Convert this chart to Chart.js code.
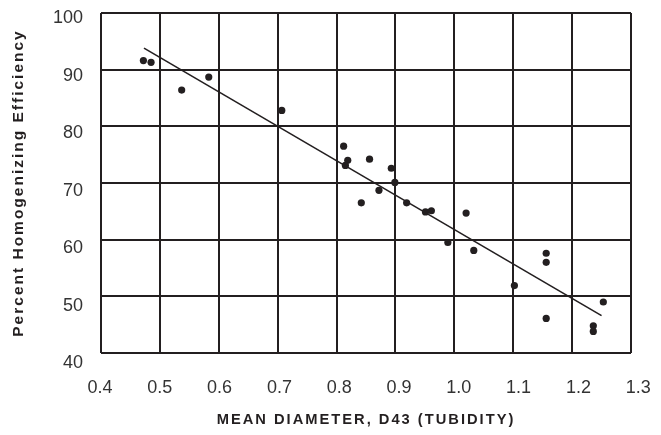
<!DOCTYPE html>
<html>
<head>
<meta charset="utf-8">
<script src="https://cdn.jsdelivr.net/npm/chart.js@4.4.1/dist/chart.umd.min.js"></script>
<style>
  html, body { margin: 0; background: #fff; }
  #wrap { width: 661px; height: 435px; }
</style>
</head>
<body>
<div id="wrap"><canvas id="chart"></canvas></div>
<script>
// measured points: mean diameter vs homogenizing efficiency
var diameter = [0.472, 0.485, 0.537, 0.583, 0.707, 0.812, 0.819, 0.815, 0.856,
  0.893, 0.899, 0.872, 0.842, 0.919, 0.951, 0.961, 1.020, 0.989, 1.033, 1.102,
  1.156, 1.156, 1.156, 1.253, 1.236, 1.236];
var efficiency = [91.6, 91.3, 86.4, 88.7, 82.8, 76.5, 74.0, 73.1, 74.2,
  72.6, 70.1, 68.7, 66.5, 66.5, 64.9, 65.1, 64.7, 59.5, 58.1, 51.9,
  57.6, 56.0, 46.1, 49.0, 44.8, 43.8];

// fitted line end points
var fitX = [0.473, 1.25];
var fitY = [93.8, 46.6];

var xTicks = [0.4, 0.5, 0.6, 0.7, 0.8, 0.9, 1.0, 1.1, 1.2, 1.3];
var yTicks = [40, 50, 60, 70, 80, 90, 100];

var ink = '#231f20';
var labelColor = '#333333';
var family = "'Liberation Sans', Arial, sans-serif";

var points = diameter.map(function (d, i) { return { x: d, y: efficiency[i] }; });
var fit = fitX.map(function (d, i) { return { x: d, y: fitY[i] }; });

function useTicks(list) {
  return function (scale) {
    scale.ticks = list.map(function (v) { return { value: v }; });
  };
}

// titles in the original are letter spaced
var spacing = {
  id: 'spacing',
  beforeDraw: function (chart) { chart.ctx.letterSpacing = '2px'; },
  beforeDatasetsDraw: function (chart) { chart.ctx.letterSpacing = '0px'; }
};

var ctx = document.getElementById('chart').getContext('2d');
new Chart(ctx, {
  type: 'scatter',
  data: {
    datasets: [{
      data: points,
      pointRadius: 3.6,
      pointBackgroundColor: ink,
      pointBorderWidth: 0,
      xAxisID: 'x',
      yAxisID: 'y'
    }, {
      type: 'line',
      data: fit,
      borderColor: ink,
      borderWidth: 1.6,
      pointRadius: 0,
      fill: false,
      xAxisID: 'x',
      yAxisID: 'y'
    }]
  },
  options: {
    animation: false,
    responsive: true,
    maintainAspectRatio: false,
    layout: { padding: { left: 0, right: 30, top: 13, bottom: 0 } },
    plugins: { legend: { display: false }, tooltip: { enabled: false } },
    scales: {
      x: {
        type: 'linear', position: 'bottom', min: 0.4, max: 1.3,
        afterBuildTicks: useTicks(xTicks),
        ticks: { display: false },
        grid: { color: ink, lineWidth: 2, drawTicks: false },
        border: { display: false }
      },
      y: {
        type: 'linear', position: 'left', min: 40, max: 100,
        afterBuildTicks: useTicks(yTicks),
        ticks: { display: false },
        grid: { color: ink, lineWidth: 2, drawTicks: false },
        border: { display: false }
      },
      xl: {
        type: 'linear', axis: 'x', position: 'bottom', min: 0.40167, max: 1.28796,
        afterBuildTicks: useTicks(xTicks),
        ticks: {
          padding: 24, z: 1, autoSkip: false, maxRotation: 0, color: labelColor,
          font: { family: family, size: 18 },
          callback: function (v) { return v.toFixed(1); }
        },
        grid: { display: false, drawTicks: false },
        border: { display: false },
        title: {
          display: true, text: 'MEAN DIAMETER, D43 (TUBIDITY)', color: ink,
          font: { family: family, size: 14.7, weight: 'bold' },
          padding: { top: 0, bottom: 6 }
        },
        afterFit: function (s) { s.height = 82; s.paddingLeft = 0; s.paddingRight = 0; }
      },
      yl: {
        type: 'linear', axis: 'y', position: 'left', min: 41.79, max: 100.92,
        afterBuildTicks: useTicks(yTicks),
        ticks: {
          padding: 18, z: 1, autoSkip: false, color: labelColor,
          font: { family: family, size: 18 }
        },
        grid: { display: false, drawTicks: false },
        border: { display: false },
        title: {
          display: true, text: 'Percent Homogenizing Efficiency', color: ink,
          font: { family: family, size: 15.5, weight: 'bold' },
          padding: { top: 9, bottom: 0 }
        },
        afterFit: function (s) { s.width = 101; s.paddingTop = 0; s.paddingBottom = 0; }
      }
    }
  },
  plugins: [spacing]
});
</script>
</body>
</html>
